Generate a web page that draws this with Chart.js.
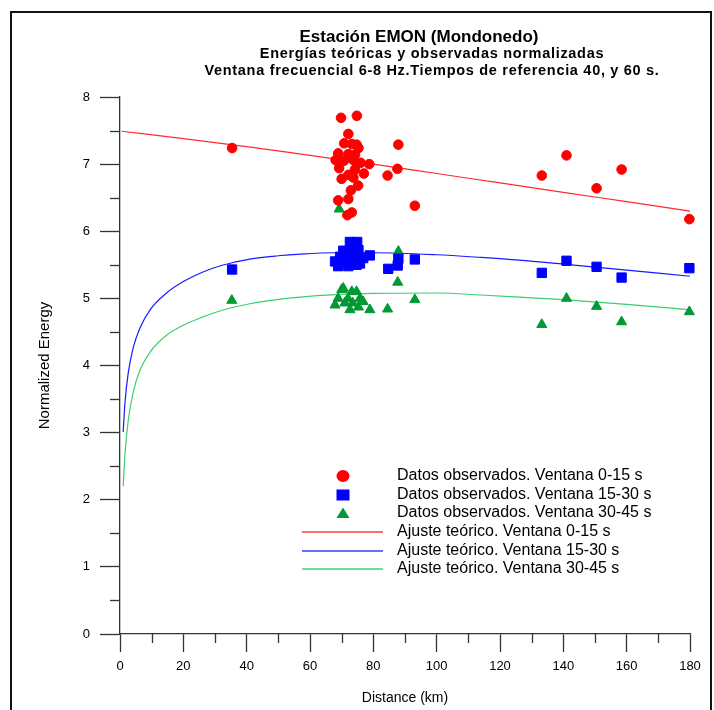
<!DOCTYPE html>
<html><head><meta charset="utf-8">
<script src="https://cdn.jsdelivr.net/npm/chart.js@4.4.1/dist/chart.umd.min.js"></script>
<style>html,body{margin:0;padding:0;background:#fff}canvas{display:block}</style>
</head><body>
<canvas id="c" width="714" height="710"></canvas>
<script>
// ---------- text ----------
const titleLines = [
  "Estación EMON (Mondonedo)",
  "Energías teóricas y observadas normalizadas",
  "Ventana frecuencial 6-8 Hz.Tiempos de referencia 40, y 60 s."
];
const xTitle = "Distance (km)";
const yTitle = "Normalized Energy";
const legendLabels = [
  "Datos observados. Ventana 0-15 s",
  "Datos observados. Ventana 15-30 s",
  "Datos observados. Ventana 30-45 s",
  "Ajuste teórico. Ventana 0-15 s",
  "Ajuste teórico. Ventana 15-30 s",
  "Ajuste teórico. Ventana 30-45 s"
];
// ---------- ticks ----------
const xTickValues = [0,20,40,60,80,100,120,140,160,180];
const xMinorValues = [10,30,50,70,90,110,130,150,170];
const yTickValues = [0,1,2,3,4,5,6,7,8];
const yMinorValues = [0.5,1.5,2.5,3.5,4.5,5.5,6.5,7.5];
// ---------- observed data ----------
const redX = [35.4,69.8,74.8,72.1,70.8,73.2,74.7,75.3,68.9,72.1,74.2,68.1,70.7,73.7,76.0,78.7,69.2,74.2,77.0,72.1,70.0,73.7,75.2,72.9,68.9,72.1,73.2,71.8,87.9,87.6,84.5,93.1,133.2,141.0,150.5,158.4,179.8];
const redY = [7.24,7.69,7.72,7.45,7.31,7.30,7.29,7.24,7.16,7.15,7.14,7.06,7.05,7.06,7.02,7.00,6.94,6.92,6.86,6.84,6.78,6.80,6.68,6.61,6.46,6.48,6.28,6.24,7.29,6.93,6.83,6.38,6.83,7.13,6.64,6.92,6.18];
const blueX = [35.4,72.6,74.9,70.5,73.2,75.3,78.9,69.5,71.6,74.0,76.8,67.9,70.5,73.2,75.8,68.9,72.1,74.7,84.7,87.7,87.9,93.1,133.2,141.0,150.5,158.4,179.8];
const blueY = [5.43,5.84,5.84,5.71,5.73,5.72,5.64,5.62,5.61,5.61,5.60,5.55,5.55,5.53,5.52,5.48,5.48,5.50,5.44,5.49,5.59,5.58,5.38,5.56,5.47,5.31,5.45];
const greenX = [35.3,69.2,70.5,73.2,74.7,70.0,68.9,72.0,75.8,67.9,71.0,73.5,76.8,72.6,75.3,78.9,84.5,87.7,87.9,93.1,133.2,141.0,150.5,158.4,179.8];
const greenY = [4.97,6.33,5.15,5.10,5.10,5.13,5.00,5.00,5.00,4.90,4.93,4.93,4.95,4.83,4.87,4.83,4.84,5.24,5.70,4.98,4.61,5.00,4.88,4.65,4.80];
// ---------- theoretical fits ----------
const redFitX = [0.5,20,40,60,80,100,120,140,160,180];
const redFitY = [7.49,7.38,7.26,7.13,7.00,6.86,6.72,6.58,6.44,6.30];
const fitX = [1.0,1.6,2.6,4.2,6.3,9.5,14.7,20,26,32,41,50,57,68,80,100,114,126,140,160,180];
const blueFitY = [3.01,3.46,3.89,4.27,4.56,4.83,5.08,5.25,5.39,5.49,5.585,5.635,5.66,5.68,5.68,5.65,5.61,5.57,5.51,5.42,5.33];
const greenFitY = [2.20,2.69,3.18,3.61,3.93,4.20,4.45,4.60,4.72,4.82,4.92,4.985,5.02,5.055,5.075,5.08,5.05,5.02,4.98,4.91,4.83];

const pts = (xs, ys) => xs.map((x,i)=>({x, y: ys[i]}));

const RED = '#ff0000', BLUE = '#0000ff', GREEN = '#009933';
const RED_L = '#ff2a2a', BLUE_L = '#1a1aff', GREEN_L = '#3ccf6e';
const FONT = "'Liberation Sans', Arial, sans-serif";
const AXIS = '#333';

const deco = {
  id: 'deco',
  beforeDraw(chart){
    const ctx = chart.ctx; ctx.save(); ctx.fillStyle = '#fff'; ctx.fillRect(0,0,chart.width,chart.height); ctx.restore();
  },
  afterDraw(chart){
    const ctx = chart.ctx, xs = chart.scales.x, ys = chart.scales.y;
    ctx.save();
    // frame
    ctx.strokeStyle = '#111'; ctx.lineWidth = 2;
    ctx.strokeRect(11, 12, 700, 720);
    // minor ticks
    ctx.strokeStyle = AXIS; ctx.lineWidth = 1.3;
    yMinorValues.forEach(v => { const p = Math.round(ys.getPixelForValue(v)) + 0.5; ctx.beginPath(); ctx.moveTo(xs.left - 10, p); ctx.lineTo(xs.left, p); ctx.stroke(); });
    xMinorValues.forEach(v => { const p = Math.round(xs.getPixelForValue(v)) + 0.5; ctx.beginPath(); ctx.moveTo(p, ys.bottom); ctx.lineTo(p, ys.bottom + 9); ctx.stroke(); });
    // titles
    ctx.fillStyle = '#000'; ctx.textAlign = 'center'; ctx.textBaseline = 'middle';
    ctx.font = "bold 17px " + FONT; ctx.fillText(titleLines[0], 419, 37);
    ctx.font = "bold 14.5px " + FONT; ctx.letterSpacing = '0.7px';
    ctx.fillText(titleLines[1], 432, 54);
    ctx.fillText(titleLines[2], 432, 71);
    ctx.letterSpacing = '0px';
    // legend
    const rows = [476, 495, 513, 532, 551, 569];
    const mx = 343, tx = 397;
    ctx.font = "16px " + FONT; ctx.textAlign = 'left';
    legendLabels.forEach((t,i) => { ctx.fillStyle = '#000'; ctx.fillText(t, tx, rows[i]); });
    ctx.fillStyle = RED; ctx.beginPath(); ctx.ellipse(mx, rows[0], 6.5, 6, 0, 0, Math.PI*2); ctx.fill();
    ctx.fillStyle = BLUE; ctx.fillRect(mx - 6.5, rows[1] - 5.5, 13, 11);
    ctx.fillStyle = GREEN; ctx.beginPath(); ctx.moveTo(mx, rows[2] - 5.5); ctx.lineTo(mx + 6.5, rows[2] + 5); ctx.lineTo(mx - 6.5, rows[2] + 5); ctx.closePath(); ctx.fill();
    ['#ff3b3b', '#3a3aff', '#45d078'].forEach((c,i) => { ctx.strokeStyle = c; ctx.lineWidth = 1.6; ctx.beginPath(); ctx.moveTo(302, rows[3+i]); ctx.lineTo(383, rows[3+i]); ctx.stroke(); });
    ctx.restore();
  }
};

const lineDs = (data, color) => ({ type:'scatter', data, showLine:true, borderColor: color, backgroundColor: color, borderWidth: 1.2, pointRadius: 0, cubicInterpolationMode: 'monotone', order: 5, clip: false });
const ptDs = (data, color, style, r) => ({ type:'scatter', data, pointStyle: style, pointRadius: r, pointHoverRadius: r, backgroundColor: color, borderColor: color, borderWidth: 1, showLine:false, order: 1, clip: false });

new Chart(document.getElementById('c'), {
  type: 'scatter',
  data: { datasets: [
    ptDs(pts(redX, redY), RED, 'circle', 4.8),
    ptDs(pts(blueX, blueY), BLUE, 'rect', 6.6),
    ptDs(pts(greenX, greenY), GREEN, 'triangle', 5.8),
    lineDs(pts(redFitX, redFitY), RED_L),
    lineDs(pts(fitX, blueFitY), BLUE_L),
    lineDs(pts(fitX, greenFitY), GREEN_L)
  ]},
  options: {
    responsive: false, animation: false, devicePixelRatio: 1,
    layout: { padding: { left: 0, top: 97, right: 24, bottom: 0 } },
    plugins: { legend: { display: false }, tooltip: { enabled: false }, title: { display: false } },
    scales: {
      x: {
        type: 'linear', min: 0, max: 180,
        afterFit: s => { s.height = 76; },
        afterBuildTicks: s => { s.ticks = xTickValues.map(v => ({ value: v })); },
        border: { display: true, color: AXIS, width: 1.3 },
        grid: { drawOnChartArea: false, drawTicks: true, tickLength: 18, tickColor: AXIS, tickWidth: 1.3 },
        ticks: { color: '#000', font: { family: FONT, size: 13 }, padding: 7, maxRotation: 0 },
        title: { display: true, text: xTitle, color: '#000', font: { family: FONT, size: 14 }, padding: { top: 0, bottom: 3 } }
      },
      y: {
        type: 'linear', min: 0, max: 8,
        afterFit: s => { s.width = 120; },
        afterBuildTicks: s => { s.ticks = yTickValues.map(v => ({ value: v })); },
        border: { display: true, color: AXIS, width: 1.3 },
        grid: { drawOnChartArea: false, drawTicks: true, tickLength: 20, tickColor: AXIS, tickWidth: 1.3 },
        ticks: { color: '#000', font: { family: FONT, size: 13 }, padding: 10 },
        title: { display: true, text: yTitle, color: '#000', font: { family: FONT, size: 15 }, padding: { top: 36, bottom: 0 } }
      }
    }
  },
  plugins: [deco]
});
</script>
</body></html>
